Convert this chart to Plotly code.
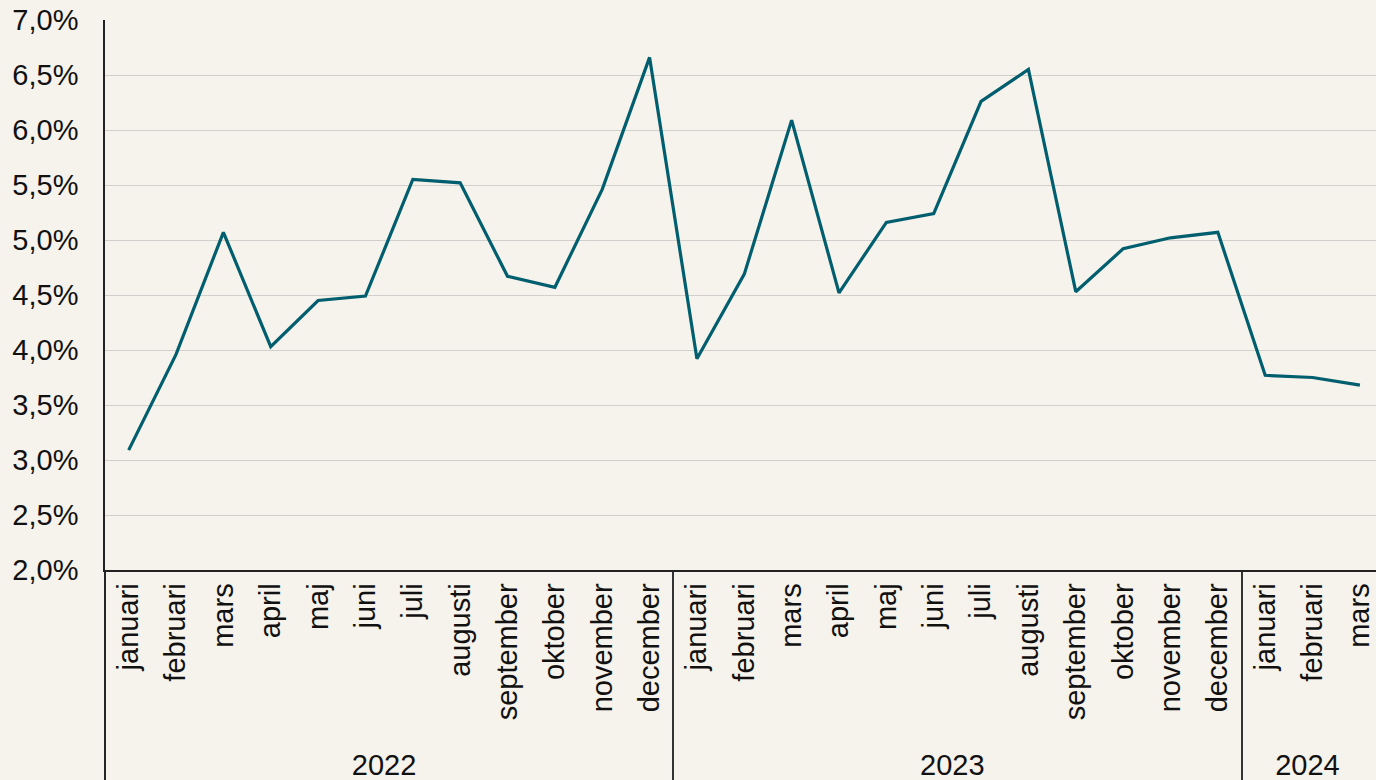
import plotly.graph_objects as go

years = ["2022"] * 12 + ["2023"] * 12 + ["2024"] * 3
months = ["januari", "februari", "mars", "april", "maj", "juni", "juli", "augusti",
          "september", "oktober", "november", "december"] * 2 + ["januari", "februari", "mars"]
values = [3.09, 3.96, 5.07, 4.03, 4.45, 4.49, 5.55, 5.52, 4.67, 4.57, 5.46, 6.66,
          3.92, 4.69, 6.09, 4.52, 5.16, 5.24, 6.26, 6.55, 4.53, 4.92, 5.02, 5.07,
          3.77, 3.75, 3.68]

bg = "#F6F2EC"
fig = go.Figure(go.Scatter(
    x=[years, months], y=values, mode="lines",
    line=dict(color="#005E6E", width=3.2),
))
fig.update_layout(
    width=1376, height=780,
    paper_bgcolor=bg, plot_bgcolor=bg,
    margin=dict(l=105, r=0, t=20, b=210),
    separators=", ",
    showlegend=False,
    font=dict(family="Liberation Sans, Arial, sans-serif", color="#111111", size=29),
)
fig.update_xaxes(
    type="multicategory", tickangle=-90, tickfont=dict(size=29),
    range=[-0.5, len(values) - 0.66],
    showline=True, linecolor="#222222", linewidth=1.5,
    showgrid=False, ticks="", showdividers=True, dividercolor="#333333", dividerwidth=1.5,
)
fig.update_yaxes(
    range=[2, 7], dtick=0.5, tickformat=".1f", ticksuffix="%",
    tickfont=dict(size=29), showgrid=True, gridcolor="#D2D0CC", gridwidth=1,
    showline=True, linecolor="#222222", linewidth=1.5, zeroline=False, ticks="",
    ticklabelstandoff=19,
)
fig.add_shape(type="line", xref="paper", yref="paper", x0=0, x1=0, y0=0, y1=-0.4,
              line=dict(color="#222222", width=1.5))
fig.write_html("out.html", config={"displayModeBar": False},
               post_script="document.body.style.margin='0';")
